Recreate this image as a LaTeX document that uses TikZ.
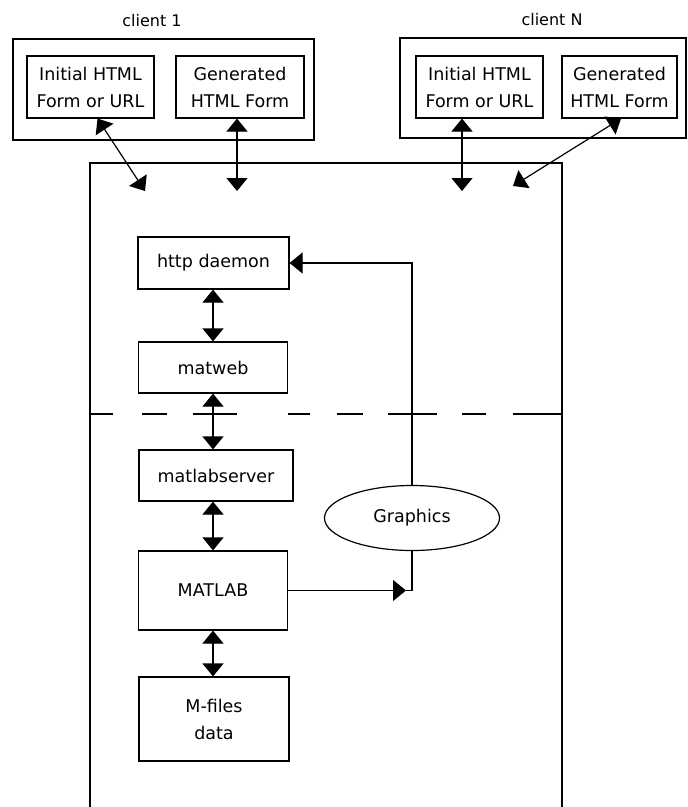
\documentclass[tikz,border=0pt]{standalone}
\usepackage{fontspec}
\setmainfont{DejaVu Sans}
\usetikzlibrary{arrows.meta,shapes.geometric,calc}
\begin{document}
\begin{tikzpicture}[x=1pt,y=-1pt,line width=1.2pt,
  box/.style={draw,line width=1.2pt,inner sep=0pt,font=\fontsize{17.5}{27}\selectfont,align=center},
  lbl/.style={font=\fontsize{16}{19}\selectfont},
  tip/.style={-{Triangle[width=21pt,length=13pt]}},
  dtip/.style={{Triangle[width=21pt,length=13pt]}-{Triangle[width=21pt,length=13pt]}}]
\useasboundingbox (0,0) rectangle (688,807);
% clients
\node[lbl] (l1) at (152,21) {client 1};
\node[lbl] (lN) at (552,20) {client N};
\node[box,minimum width=301pt,minimum height=101pt] (c1) at (163.5,89.5) {};
\node[box,minimum width=127pt,minimum height=62pt] (c1a) at (90.5,87) {Initial HTML\\Form or URL};
\node[box,minimum width=128pt,minimum height=62pt] (c1b) at (240,87) {Generated\\HTML Form};
\node[box,minimum width=286pt,minimum height=100pt] (cN) at (543,88) {};
\node[box,minimum width=127pt,minimum height=62pt] (cNa) at (479.5,87) {Initial HTML\\Form or URL};
\node[box,minimum width=115pt,minimum height=62pt] (cNb) at (619.5,87) {Generated\\HTML Form};
% server box
\draw (90,807) -- (90,163) -- (562,163) -- (562,807);
\coordinate (e1) at (145,191);
\coordinate (e2) at (237,191);
\coordinate (e3) at (462,191);
\coordinate (e4) at (513,186);
\draw[dtip] ([xshift=7pt]c1a.south) -- (e1);
\draw[dtip] ([xshift=-3pt]c1b.south) -- (e2);
\draw[dtip] ([xshift=-17.5pt]cNa.south) -- (e3);
\draw[dtip] ([xshift=1.5pt]cNb.south) -- (e4);
% stack
\node[box,minimum width=151pt,minimum height=52pt] (http) at (213.5,263) {http daemon};
\node[box,minimum width=149pt,minimum height=51pt] (matweb) at (213,367.5) {matweb};
\node[box,minimum width=154pt,minimum height=51pt] (mls) at (216,475.5) {matlabserver};
\node[box,minimum width=149pt,minimum height=79pt] (matlab) at (213,590.5) {MATLAB};
\node[box,minimum width=150pt,minimum height=84pt] (mfiles) at (214,719) {M-files\\data};
\node[box,ellipse,minimum width=175pt,minimum height=65pt] (g) at (412,518) {Graphics};
\draw[dtip] (http.south -| 213,0) -- (matweb.north -| 213,0);
\draw[dtip] (matweb.south -| 213,0) -- (mls.north -| 213,0);
\draw[dtip] (mls.south -| 213,0) -- (matlab.north -| 213,0);
\draw[dtip] (matlab.south -| 213,0) -- (mfiles.north -| 213,0);
% dashed separator
\draw[dash pattern=on 23pt off 29pt on 25pt off 26pt on 44pt off 51pt on 22pt off 27pt on 26pt off 25pt on 49pt off 25pt on 24pt off 27pt on 60pt] (90,414) -- (562,414);
% graphics loop
\coordinate (corner) at (g.south |- matlab.east);
\draw[tip] (matlab.east) -- ([xshift=-6pt]corner);
\draw ([xshift=-6pt]corner) -- (corner) -- (g.south);
\draw[tip] (g.north) |- (http.east);
\end{tikzpicture}
\end{document}
